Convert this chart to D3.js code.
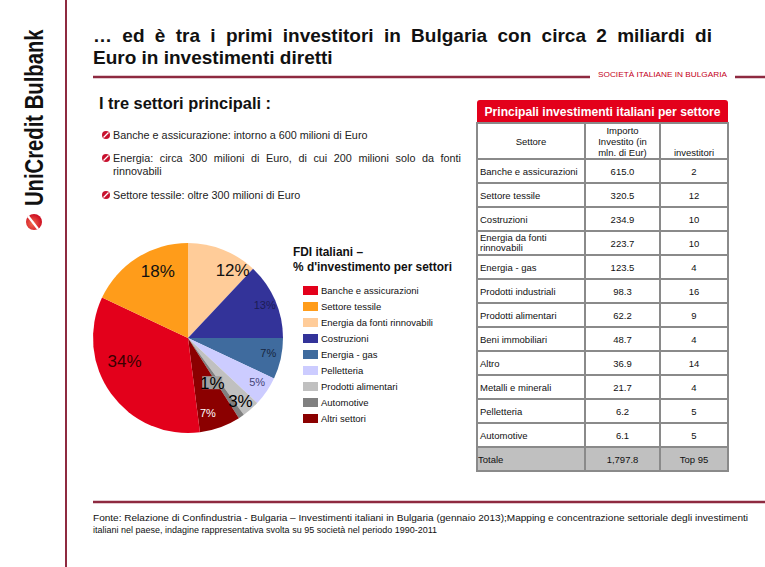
<!DOCTYPE html>
<html><head><meta charset="utf-8">
<script src="https://cdn.jsdelivr.net/npm/d3@7"></script>
<style>body{margin:0;background:#fff}svg{display:block}</style>
</head><body>
<script>
// ---------- data ----------
const titleLines = ["… ed è tra i primi investitori in Bulgaria con circa 2 miliardi di", "Euro in investimenti diretti"];
const sectionTag = "SOCIETÀ ITALIANE IN BULGARIA";
const subHeading = "I tre settori principali :";
const bulletTexts = [
  ["Banche e assicurazione: intorno a 600 milioni di Euro"],
  ["Energia: circa 300 milioni di Euro, di cui 200 milioni solo da fonti", "rinnovabili"],
  ["Settore tessile: oltre 300 milioni di Euro"]
];
const pieTitle = ["FDI italiani –", "% d'investimento per settori"];
const pieCategories = ["Energia da fonti rinnovabili", "Costruzioni", "Energia - gas", "Pelletteria", "Prodotti alimentari", "Automotive", "Altri settori", "Banche e assicurazioni", "Settore tessile"];
const pieValues = [12, 13, 7, 5, 3, 1, 7, 34, 18];
const legendCategories = ["Banche e assicurazioni", "Settore tessile", "Energia da fonti rinnovabili", "Costruzioni", "Energia - gas", "Pelletteria", "Prodotti alimentari", "Automotive", "Altri settori"];
const tableTitle = "Principali investimenti italiani per settore";
const tableHeaders = [["Settore"], ["Importo", "Investito (in", "mln. di Eur)"], ["investitori"]];
const tableSectors = ["Banche e assicurazioni", "Settore tessile", "Costruzioni", "Energia da fonti|rinnovabili", "Energia - gas", "Prodotti industriali", "Prodotti alimentari", "Beni immobiliari", "Altro", "Metalli e minerali", "Pelletteria", "Automotive", "Totale"];
const tableAmounts = ["615.0", "320.5", "234.9", "223.7", "123.5", "98.3", "62.2", "48.7", "36.9", "21.7", "6.2", "6.1", "1,797.8"];
const tableInvestors = ["2", "12", "10", "10", "4", "16", "9", "4", "14", "4", "5", "5", "Top 95"];
const footnote = ["Fonte: Relazione di Confindustria - Bulgaria – Investimenti italiani in Bulgaria (gennaio 2013);Mapping e concentrazione settoriale degli investimenti", "italiani nel paese, indagine rappresentativa svolta su 95 società nel periodo 1990-2011"];
const brand = "UniCredit Bulbank";

// ---------- styles / layout ----------
const W = 765, H = 567;
const maroon = "#8e2a40";
const FONT = "'Liberation Sans', Arial, sans-serif";
const color = d3.scaleOrdinal(legendCategories,
  ["#e3001b", "#ff9c1a", "#ffcc99", "#333399", "#3f6b9e", "#ccccff", "#c0c0c0", "#808080", "#8b0000"]);
const labelStyle = {
  "Energia da fonti rinnovabili": {k: 0.85, da: 12, size: 17, fill: "#111"},
  "Costruzioni": {k: 0.88, da: 0, size: 11, fill: "#1c1c55"},
  "Energia - gas": {k: 0.86, da: -2, size: 11, fill: "#17263f"},
  "Pelletteria": {k: 0.86, da: -2, size: 11, fill: "#444477"},
  "Prodotti alimentari": {k: 0.87, da: 2, size: 17, fill: "#000"},
  "Automotive": {k: 0.54, da: 6, size: 17, fill: "#000", box: "#a0a0a0"},
  "Altri settori": {k: 0.82, da: 5, size: 11, fill: "#fff"},
  "Banche e assicurazioni": {k: 0.71, da: 16, size: 17, fill: "#3a0000"},
  "Settore tessile": {k: 0.77, da: 8, size: 17, fill: "#111"}
};

const svg = d3.select("body").append("svg").attr("width", W).attr("height", H);
svg.append("rect").attr("width", W).attr("height", H).attr("fill", "#fff");

// justify a text to a width by widening its word spaces
function justify(t, width) {
  const nat = t.node().getComputedTextLength();
  const spaces = (t.text().match(/ /g) || []).length;
  if (spaces > 0 && width > nat) t.attr("word-spacing", (width - nat) / spaces);
  else if (width < nat) t.attr("textLength", width).attr("lengthAdjust", "spacingAndGlyphs");
}
// horizontally condensed text
function narrowText(x, y, str, size, sx, opts = {}) {
  const g = svg.append("g").attr("transform", `translate(${x},${y}) scale(${sx},1)`);
  const t = g.append("text").attr("x", 0).attr("y", 0).attr("font-family", FONT)
    .attr("font-weight", opts.weight || "bold").attr("font-size", size).attr("fill", opts.fill || "#111")
    .attr("text-anchor", opts.anchor || "start").text(str);
  if (opts.len) t.attr("textLength", opts.len / sx).attr("lengthAdjust", "spacingAndGlyphs");
  return t;
}

// ---------- left brand strip ----------
svg.append("line").attr("x1", 66).attr("x2", 66).attr("y1", 0).attr("y2", H)
  .attr("stroke", maroon).attr("stroke-width", 2);
svg.append("text").attr("transform", "translate(43,206) rotate(-90) scale(0.81,1)")
  .attr("font-family", FONT).attr("font-weight", "bold").attr("font-size", 25)
  .attr("fill", "#111").text(brand);
const defs = svg.append("defs");
const rg = defs.append("radialGradient").attr("id", "logoG").attr("cx", "40%").attr("cy", "60%").attr("r", "70%");
rg.append("stop").attr("offset", "0%").attr("stop-color", "#f26a4f");
rg.append("stop").attr("offset", "100%").attr("stop-color", "#c8001a");
svg.append("circle").attr("cx", 34).attr("cy", 222).attr("r", 8).attr("fill", "url(#logoG)");
svg.append("line").attr("x1", 28).attr("y1", 216).attr("x2", 38).attr("y2", 229)
  .attr("stroke", "#fff").attr("stroke-width", 2.2);

// ---------- title ----------
titleLines.forEach((t, i) => {
  const tt = svg.append("text").attr("x", 93).attr("y", 42 + i * 22).attr("font-family", FONT)
    .attr("font-weight", "bold").attr("font-size", 19).attr("fill", "#111").text(t);
  if (i === 0) justify(tt, 619);
});
svg.append("line").attr("x1", 93).attr("x2", 590).attr("y1", 77).attr("y2", 77).attr("stroke", maroon).attr("stroke-width", 2.5);
svg.append("line").attr("x1", 735).attr("x2", W).attr("y1", 77).attr("y2", 77).attr("stroke", maroon).attr("stroke-width", 2.5);
svg.append("text").attr("x", 598).attr("y", 77).attr("font-family", FONT).attr("font-size", 7.5)
  .attr("fill", "#c4001a").attr("textLength", 129).attr("lengthAdjust", "spacingAndGlyphs").text(sectionTag);

// ---------- subheading & bullets ----------
svg.append("text").attr("x", 99).attr("y", 109).attr("font-family", FONT).attr("font-weight", "bold")
  .attr("font-size", 16).attr("fill", "#111").attr("textLength", 172).attr("lengthAdjust", "spacingAndGlyphs").text(subHeading);
const bulletY = [139, 162, 199];
bulletTexts.forEach((lines, i) => {
  const g = svg.append("g").attr("transform", `translate(106,${bulletY[i] - 4})`);
  g.append("circle").attr("r", 4).attr("fill", "#c8102e");
  g.append("line").attr("x1", -2.5).attr("y1", 2.5).attr("x2", 2.5).attr("y2", -2.5).attr("stroke", "#fff").attr("stroke-width", 1.2);
  lines.forEach((t, j) => {
    const tx = svg.append("text").attr("x", 113).attr("y", bulletY[i] + j * 13)
      .attr("font-family", FONT).attr("font-size", 10.8).attr("fill", "#222").text(t);
    if (lines.length > 1 && j === 0) justify(tx, 348);
  });
});

// ---------- pie ----------
const cx = 188, cy = 338, R = 95;
const pie = d3.pie().sort(null).value(d => d.v)(pieCategories.map((c, i) => ({c, v: pieValues[i]})));
const arc = d3.arc().innerRadius(0).outerRadius(R);
const gp = svg.append("g").attr("transform", `translate(${cx},${cy})`);
gp.selectAll("path").data(pie).join("path").attr("d", arc).attr("fill", d => color(d.data.c));
pie.forEach(d => {
  const st = labelStyle[d.data.c];
  const mid = (d.startAngle + d.endAngle) / 2 + st.da * Math.PI / 180;
  const lr = st.k * R;
  const [lx, ly] = d3.arc().innerRadius(lr).outerRadius(lr).centroid({startAngle: mid, endAngle: mid});
  const label = d.data.v + "%";
  if (st.box) {
    gp.append("rect").attr("x", lx - 10).attr("y", ly - 7).attr("width", 20).attr("height", 13).attr("fill", st.box);
  }
  gp.append("text").attr("x", lx).attr("y", ly).attr("text-anchor", "middle").attr("dominant-baseline", "central")
    .attr("font-family", FONT).attr("font-size", st.size).attr("fill", st.fill).text(label);
});

// pie title & legend
pieTitle.forEach((t, i) => {
  narrowText(293, 256 + i * 15, t, 12.5, 0.85, {len: i ? 159 : 70});
});
const lg = svg.append("g");
legendCategories.forEach((c, i) => {
  const y = 286 + i * 16;
  lg.append("rect").attr("x", 303).attr("y", y).attr("width", 15).attr("height", 9).attr("fill", color(c));
  lg.append("text").attr("x", 321).attr("y", y + 8).attr("font-family", FONT).attr("font-size", 9.5).attr("fill", "#111").text(c);
});

// ---------- table ----------
const tx0 = 477, tx1 = 728, cols = [477, 585, 660, 728];
svg.append("path").attr("d", `M${tx0},123 V103 Q${tx0},100 ${tx0 + 3},100 H${tx1 - 3} Q${tx1},100 ${tx1},103 V123 Z`).attr("fill", "#e3001b");
narrowText((tx0 + tx1) / 2, 116, tableTitle, 13, 0.85, {len: 236, fill: "#fff", anchor: "middle"});
const headTop = 123, headBot = 159, rowH = 24;
const nRows = tableSectors.length;
const tBot = headBot + nRows * rowH;
const tg = svg.append("g");
tg.append("rect").attr("x", tx0).attr("y", headBot + (nRows - 1) * rowH).attr("width", tx1 - tx0).attr("height", rowH).attr("fill", "#c0c0c0");
const colMid = [(cols[0] + cols[1]) / 2, (cols[1] + cols[2]) / 2, (cols[2] + cols[3]) / 2];
tableHeaders.forEach((lines, ci) => {
  lines.forEach((t, j) => {
    let y;
    if (ci === 0) y = 145;
    else if (ci === 1) y = 134 + j * 11;
    else y = 156;
    tg.append("text").attr("x", colMid[ci]).attr("y", y).attr("text-anchor", "middle").attr("font-family", FONT)
      .attr("font-size", 9.5).attr("fill", "#111").text(t);
  });
});
tableSectors.forEach((s, i) => {
  const yTop = headBot + i * rowH;
  const parts = s.split("|");
  parts.forEach((p, j) => {
    const y = parts.length > 1 ? yTop + 10 + j * 10 : yTop + 15.5;
    tg.append("text").attr("x", i === nRows - 1 ? 478 : 480).attr("y", y).attr("font-family", FONT)
      .attr("font-size", 9.5).attr("fill", "#111").text(p);
  });
  tg.append("text").attr("x", colMid[1]).attr("y", yTop + 15.5).attr("text-anchor", "middle").attr("font-family", FONT)
    .attr("font-size", 9.5).attr("fill", "#111").text(tableAmounts[i]);
  tg.append("text").attr("x", colMid[2]).attr("y", yTop + 15.5).attr("text-anchor", "middle").attr("font-family", FONT)
    .attr("font-size", 9.5).attr("fill", "#111").text(tableInvestors[i]);
});
const gridC = "#8a8a8a";
cols.forEach(x => tg.append("line").attr("x1", x).attr("x2", x).attr("y1", headTop).attr("y2", tBot).attr("stroke", gridC).attr("stroke-width", 2));
d3.range(nRows + 1).map(i => headBot + i * rowH).concat([headTop]).forEach(y =>
  tg.append("line").attr("x1", tx0 - 1).attr("x2", tx1 + 1).attr("y1", y).attr("y2", y).attr("stroke", gridC).attr("stroke-width", 2));

// ---------- footnote ----------
svg.append("line").attr("x1", 93).attr("x2", W).attr("y1", 502).attr("y2", 502).attr("stroke", maroon).attr("stroke-width", 2.5);
footnote.forEach((t, i) => {
  const f = svg.append("text").attr("x", 93).attr("y", 521 + i * 12).attr("font-family", FONT).attr("font-size", 9).attr("fill", "#111").text(t);
  if (i === 0) f.attr("textLength", 655).attr("lengthAdjust", "spacingAndGlyphs");
});
</script>
</body></html>
